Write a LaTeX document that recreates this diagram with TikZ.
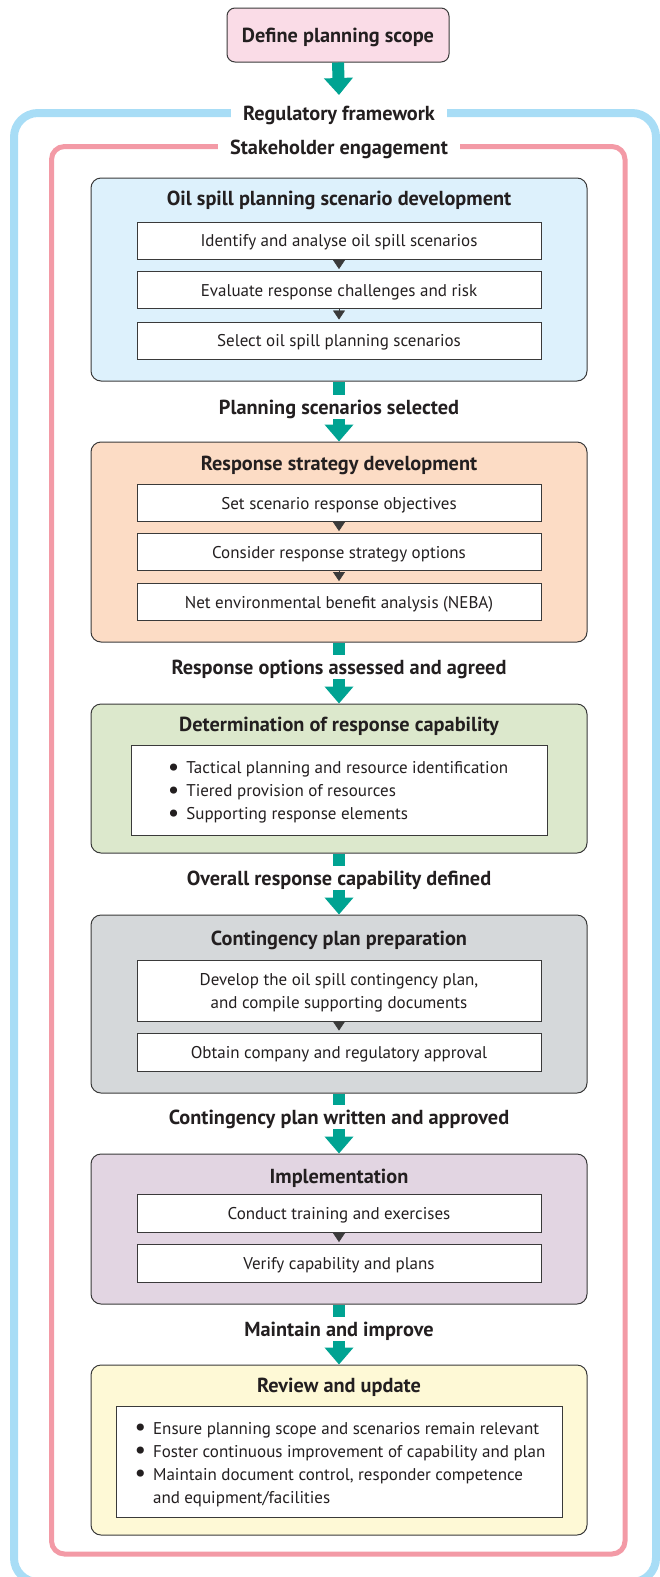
\documentclass[tikz,border=0pt]{standalone}
\usepackage{fontspec}
\setmainfont{PT Sans}
\usetikzlibrary{arrows.meta,positioning}
\definecolor{ink}{HTML}{231F20}
\definecolor{edge}{HTML}{3A3A3A}
\definecolor{regblue}{HTML}{A8DDF6}
\definecolor{stkred}{HTML}{F39AA6}
\definecolor{flowteal}{HTML}{00A392}
\definecolor{startpink}{HTML}{FADCE7}
\definecolor{c1}{HTML}{DDF1FC}
\definecolor{c2}{HTML}{FCDCC5}
\definecolor{c3}{HTML}{DCE8CC}
\definecolor{c4}{HTML}{D5D8DA}
\definecolor{c5}{HTML}{E2D5E2}
\definecolor{c6}{HTML}{FEF9D6}
\newcommand{\dotmark}{\raisebox{-0.2ex}{\scalebox{1.5}{\textbullet}}}
\tikzstyle{start} = [rectangle, rounded corners=8pt, draw=edge, fill=startpink, line width=1pt, minimum width=222pt, minimum height=54pt, text=ink, text height=14pt, text depth=0pt, font=\bfseries\fontsize{20.3}{24}\selectfont]
\tikzstyle{phase} = [rectangle, rounded corners=10pt, draw=edge, line width=1pt, minimum width=496pt, inner sep=0pt]
\tikzstyle{task} = [rectangle, draw=edge, fill=white, line width=1pt, minimum width=404pt, minimum height=37pt, inner sep=0pt, text=ink, text height=12pt, text depth=0pt, font=\fontsize{17}{23}\selectfont]
\tikzstyle{txt} = [align=center, text=ink, inner sep=0pt, font=\fontsize{17}{23}\selectfont]
\tikzstyle{ttl} = [text=ink, text height=14pt, text depth=0pt, font=\bfseries\fontsize{20.3}{24}\selectfont]
\tikzstyle{lbl} = [fill=white, inner xsep=12pt, inner ysep=5pt, text=ink, text height=14pt, text depth=0pt, font=\bfseries\fontsize{20.3}{24}\selectfont]
\tikzstyle{flow} = [flowteal, line width=12pt, -{Triangle[width=28pt,length=17pt]}]
\tikzstyle{tri} = [edge, line width=0.4pt, shorten >=2pt, -{Triangle[width=12pt,length=9pt]}]
\tikzstyle{regline} = [regblue, line width=8pt]
\tikzstyle{stkline} = [stkred, line width=5pt]

\begin{document}
\begin{tikzpicture}[x=1pt,y=-1pt]
	\useasboundingbox (0,0) rectangle (660,1577);
	\clip (0,0) rectangle (660,1577);

	% frames
	\draw[regline, rounded corners=24pt] (14,113) rectangle (656,1582);
	\draw[stkline, rounded corners=13pt] (51.5,146.5) rectangle (625,1554);

	\node[start] (def) at (338,35) {Define planning scope};
	\coordinate (regtop) at (339,95);

	% oil spill scenarios
	\node[phase, fill=c1, minimum height=203pt] (s1) at (339,279.5) {};
	\node[ttl] (s1t) at (339,198) {Oil spill planning scenario development};
	\node[task] (s1a) at (339,240.5) {Identify and analyse oil spill scenarios};
	\node[task] (s1b) at (339,290) {Evaluate response challenges and risk};
	\node[task] (s1c) at (339,340.5) {Select oil spill planning scenarios};

	% response strategy
	\node[phase, fill=c2, minimum height=200pt] (s2) at (339,542) {};
	\node[ttl] (s2t) at (339,463) {Response strategy development};
	\node[task] (s2a) at (339,503) {Set scenario response objectives};
	\node[task] (s2b) at (339,552) {Consider response strategy options};
	\node[task] (s2c) at (339,602) {Net environmental benefit analysis (NEBA)};

	% capability
	\node[phase, fill=c3, minimum height=149pt] (s3) at (339,778.5) {};
	\node[ttl] (s3t) at (339,724) {Determination of response capability};
	\node[task, minimum width=416pt, minimum height=90pt] (s3a) at (339,790) {};
	\node[txt] (s3list) at (338,792) {%
		\begin{tabular}{@{}l@{\hspace{7pt}}l@{}}
			\dotmark & Tactical planning and resource identification\\
			\dotmark & Tiered provision of resources\\
			\dotmark & Supporting response elements
		\end{tabular}};

	% plan preparation
	\node[phase, fill=c4, minimum height=178pt] (s4) at (339,1004) {};
	\node[ttl] (s4t) at (339,938) {Contingency plan preparation};
	\node[task, minimum height=61pt] (s4a) at (339,990.5) {};
	\node[txt] (s4text) at (339,992.5) {Develop the oil spill contingency plan,\\and compile supporting documents};
	\node[task, minimum height=38pt] (s4b) at (339,1052) {Obtain company and regulatory approval};

	% implementation
	\node[phase, fill=c5, minimum height=150pt] (s5) at (339,1229) {};
	\node[ttl] (s5t) at (339,1176) {Implementation};
	\node[task, minimum height=38pt] (s5a) at (339,1213) {Conduct training and exercises};
	\node[task, minimum height=38pt] (s5b) at (339,1263.5) {Verify capability and plans};

	% review
	\node[phase, fill=c6, minimum height=170pt] (s6) at (339,1450) {};
	\node[ttl] (s6t) at (339,1385) {Review and update};
	\node[task, minimum width=446pt, minimum height=111pt] (s6a) at (339,1461.5) {};
	\node[txt] (s6list) at (340,1464) {%
		\begin{tabular}{@{}l@{\hspace{7pt}}l@{}}
			\dotmark & Ensure planning scope and scenarios remain relevant\\
			\dotmark & Foster continuous improvement of capability and plan\\
			\dotmark & Maintain document control, responder competence\\
			& and equipment/facilities
		\end{tabular}};

	% small arrows inside the stages
	\draw[tri] (s1a.south) -- (s1b.north);
	\draw[tri] (s1b.south) -- (s1c.north);
	\draw[tri] (s2a.south) -- (s2b.north);
	\draw[tri] (s2b.south) -- (s2c.north);
	\draw[tri] (s4a.south) -- (s4b.north);
	\draw[tri] (s5a.south) -- (s5b.north);

	% main flow
	\draw[flow] (def.south) -- (regtop);
	\draw[flow] (s1.south) -- (s2.north);
	\draw[flow] (s2.south) -- (s3.north);
	\draw[flow] (s3.south) -- (s4.north);
	\draw[flow] (s4.south) -- (s5.north);
	\draw[flow] (s5.south) -- (s6.north);

	% labels on the frames and arrows
	\node[lbl] (reg) at (339,113) {Regulatory framework};
	\node[lbl] (stk) at (339,147) {Stakeholder engagement};
	\node[lbl] (l1) at (339,407) {Planning scenarios selected};
	\node[lbl] (l2) at (339,667) {Response options assessed and agreed};
	\node[lbl] (l3) at (339,878) {Overall response capability defined};
	\node[lbl] (l4) at (339,1117) {Contingency plan written and approved};
	\node[lbl] (l5) at (339,1329) {Maintain and improve};
\end{tikzpicture}
\end{document}
